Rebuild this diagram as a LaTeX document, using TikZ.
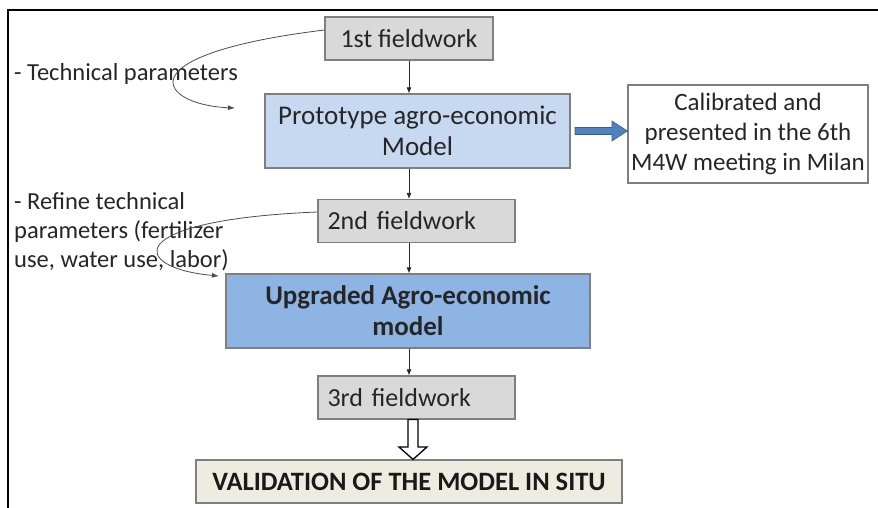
\documentclass[tikz,border=0pt]{standalone}
\usepackage{fontspec}
\setmainfont{Carlito}
\usetikzlibrary{arrows.meta}
\definecolor{txt}{HTML}{262626}
\definecolor{edge}{HTML}{7F7F7F}
\definecolor{fieldgray}{HTML}{D9D9D9}
\definecolor{protoblue}{HTML}{C6D9F1}
\definecolor{upblue}{HTML}{8EB4E3}
\definecolor{beige}{HTML}{EEECE1}
\definecolor{arrowblue}{HTML}{4F81BD}
\definecolor{arrowedge}{HTML}{385D8A}
\tikzset{
  box/.style={draw=edge, line width=1.2pt, text=txt, inner sep=0pt, align=center},
  fieldbox/.style={box, fill=fieldgray, minimum height=43pt,
    font=\fontsize{26}{30}\selectfont},
  flow/.style={draw=black!85, line width=0.8pt, -{Latex[length=6pt,width=5pt]}},
  note/.style={text=txt, align=left, anchor=west, inner sep=0pt,
    font=\fontsize{24.5}{29}\selectfont},
  curl/.style={draw=black!70, line width=0.8pt, -{Latex[length=7pt,width=5pt]}}
}
\begin{document}
\begin{tikzpicture}[x=1pt,y=-1pt]
\useasboundingbox (0,0) rectangle (878,508);
% outer frame (only top and left edges fall inside the page)
\draw[line width=2.6pt, black] (8,512) -- (8,10) -- (882,10);

% boxes
\node[fieldbox, minimum width=168pt] (f1) at (409,38.5) {1st fieldwork};
\node[box, fill=protoblue, minimum width=305pt, minimum height=74pt,
  font=\fontsize{27}{31}\selectfont] (proto) at (417.5,131) {Prototype agro-economic\\Model};
\node[box, fill=white, minimum width=240pt, minimum height=98pt,
  font=\fontsize{25}{30}\selectfont] (cal) at (748,134) {Calibrated and\\presented in the 6th\\M4W meeting in Milan};
\node[fieldbox, minimum width=197pt, text width=178pt, align=left] (f2) at (416.5,221) {2nd fieldwork};
\node[box, fill=upblue, minimum width=364pt, minimum height=74pt,
  font=\bfseries\fontsize{27}{31}\selectfont] (up) at (408,311) {Upgraded Agro-economic\\model};
\node[fieldbox, minimum width=197pt, text width=178pt, align=left] (f3) at (416.5,397.5) {3rd fieldwork};
\node[box, fill=beige, minimum width=426pt, minimum height=43pt, text=black!90,
  font=\bfseries\fontsize{26.5}{30}\selectfont] (val) at (409,481.5) {VALIDATION OF THE MODEL IN SITU};

% notes
\node[note] (n1) at (14,74) {- Technical parameters};
\node[note, anchor=north west] (n2) at (14,192) {- Refine technical\\parameters (fertilizer\\use, water use, labor)};

% vertical flow
\draw[flow] (f1.south -| 409,0) -- (proto.north -| 409,0);
\draw[flow] (proto.south -| 409,0) -- (f2.north -| 409,0);
\draw[flow] (f2.south -| 409,0) -- (up.north -| 409,0);
\draw[flow] (up.south -| 409,0) -- (f3.north -| 409,0);

% curled inputs
\coordinate (c1) at (235,108);
\coordinate (c2) at (219,276);
\draw[curl] ([yshift=8.5pt]f1.west) .. controls (120,55) and (160,105) .. (c1);
\draw[curl] (f2.west |- 0,212) .. controls (120,220) and (130,268) .. (c2);

% blue block arrow to the side box
\fill[arrowblue, draw=arrowedge, line width=0.6pt]
  (575,127.5) -- (612,127.5) -- (612,121) -- (cal.west |- 0,131)
  -- (612,141) -- (612,134.5) -- (575,134.5) -- cycle;

% hollow block arrow from the 3rd fieldwork down to validation
\coordinate (tip) at (val.north -| 413,0);
\draw[black, line width=1.3pt, fill=white]
  (408,419.5) -- (418,419.5) -- (418,447) -- (427,447) -- (tip) -- (399,447)
  -- (408,447) -- cycle;
\end{tikzpicture}
\end{document}
